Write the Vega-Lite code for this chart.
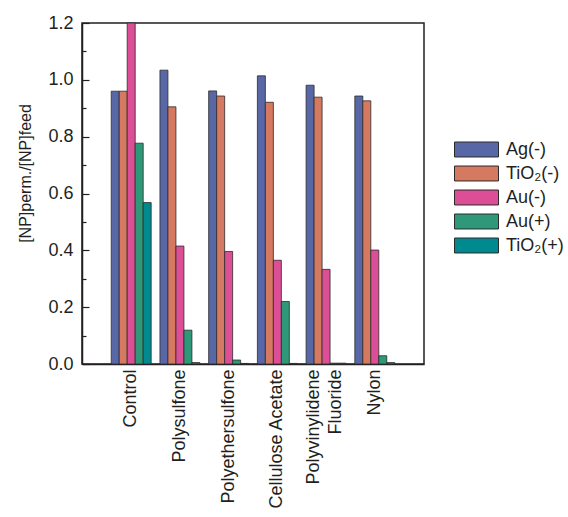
{
  "$schema": "https://vega.github.io/schema/vega-lite/v6.json",
  "width": 342,
  "height": 341,
  "autosize": {"type": "none"},
  "padding": {"left": 82, "top": 23, "right": 144, "bottom": 153},
  "background": "white",
  "config": {
    "font": "Liberation Sans",
    "view": {"stroke": "#231f20", "strokeWidth": 1.5},
    "axis": {"domainColor": "#231f20", "domainWidth": 1.5, "tickColor": "#231f20", "labelColor": "#231f20", "titleColor": "#231f20", "grid": false}
  },
  "data": {
    "values": [
      {"membrane": "Control", "np": "Ag(-)", "ratio": 0.96},
      {"membrane": "Control", "np": "TiO₂(-)", "ratio": 0.96},
      {"membrane": "Control", "np": "Au(-)", "ratio": 1.2},
      {"membrane": "Control", "np": "Au(+)", "ratio": 0.777},
      {"membrane": "Control", "np": "TiO₂(+)", "ratio": 0.568},
      {"membrane": "Polysulfone", "np": "Ag(-)", "ratio": 1.034},
      {"membrane": "Polysulfone", "np": "TiO₂(-)", "ratio": 0.905},
      {"membrane": "Polysulfone", "np": "Au(-)", "ratio": 0.415},
      {"membrane": "Polysulfone", "np": "Au(+)", "ratio": 0.119},
      {"membrane": "Polysulfone", "np": "TiO₂(+)", "ratio": 0.005},
      {"membrane": "Polyethersulfone", "np": "Ag(-)", "ratio": 0.961},
      {"membrane": "Polyethersulfone", "np": "TiO₂(-)", "ratio": 0.943},
      {"membrane": "Polyethersulfone", "np": "Au(-)", "ratio": 0.396},
      {"membrane": "Polyethersulfone", "np": "Au(+)", "ratio": 0.014},
      {"membrane": "Polyethersulfone", "np": "TiO₂(+)", "ratio": 0.002},
      {"membrane": "Cellulose Acetate", "np": "Ag(-)", "ratio": 1.014},
      {"membrane": "Cellulose Acetate", "np": "TiO₂(-)", "ratio": 0.921},
      {"membrane": "Cellulose Acetate", "np": "Au(-)", "ratio": 0.365},
      {"membrane": "Cellulose Acetate", "np": "Au(+)", "ratio": 0.22},
      {"membrane": "Cellulose Acetate", "np": "TiO₂(+)", "ratio": 0.002},
      {"membrane": "Polyvinylidene Fluoride", "np": "Ag(-)", "ratio": 0.981},
      {"membrane": "Polyvinylidene Fluoride", "np": "TiO₂(-)", "ratio": 0.939},
      {"membrane": "Polyvinylidene Fluoride", "np": "Au(-)", "ratio": 0.333},
      {"membrane": "Polyvinylidene Fluoride", "np": "Au(+)", "ratio": 0.003},
      {"membrane": "Polyvinylidene Fluoride", "np": "TiO₂(+)", "ratio": 0.003},
      {"membrane": "Nylon", "np": "Ag(-)", "ratio": 0.943},
      {"membrane": "Nylon", "np": "TiO₂(-)", "ratio": 0.926},
      {"membrane": "Nylon", "np": "Au(-)", "ratio": 0.401},
      {"membrane": "Nylon", "np": "Au(+)", "ratio": 0.029},
      {"membrane": "Nylon", "np": "TiO₂(+)", "ratio": 0.005}
    ]
  },
  "mark": {"type": "bar", "stroke": "#2b2b2b", "strokeWidth": 0.8},
  "encoding": {
    "x": {
      "field": "membrane",
      "type": "nominal",
      "sort": ["Control", "Polysulfone", "Polyethersulfone", "Cellulose Acetate", "Polyvinylidene Fluoride", "Nylon"],
      "scale": {"paddingInner": 0.18, "paddingOuter": 0.6},
      "axis": {
        "title": null,
        "ticks": false,
        "labelAngle": -90,
        "labelFontSize": 18,
        "labelPadding": 5,
        "labelLineHeight": 22,
        "labelLimit": 300,
        "labelOffset": {"condition": {"test": "datum.value == 'Polyvinylidene Fluoride'", "value": -12}, "value": 0},
        "labelExpr": "datum.value == 'Polyvinylidene Fluoride' ? ['Polyvinylidene', 'Fluoride'] : datum.value"
      }
    },
    "xOffset": {
      "field": "np",
      "type": "nominal",
      "sort": ["Ag(-)", "TiO₂(-)", "Au(-)", "Au(+)", "TiO₂(+)"],
      "scale": {"paddingInner": 0, "paddingOuter": 0}
    },
    "y": {
      "field": "ratio",
      "type": "quantitative",
      "scale": {"domain": [0, 1.2], "nice": false, "clamp": true},
      "axis": {
        "title": "[NP]perm./[NP]feed",
        "titleFontSize": 16,
        "titleFontWeight": "normal",
        "titlePadding": 14,
        "titleY": 150,
        "values": [0, 0.1, 0.2, 0.3, 0.4, 0.5, 0.6, 0.7, 0.8, 0.9, 1.0, 1.1, 1.2],
        "labelExpr": "round(datum.value * 10) % 2 == 0 ? format(datum.value, '.1f') : ''",
        "labelFontSize": 18,
        "labelPadding": 16,
        "tickSize": {"condition": {"test": "round(datum.value * 10) % 2 == 0", "value": -7}, "value": -4},
        "tickWidth": 1.2
      }
    },
    "color": {
      "field": "np",
      "type": "nominal",
      "sort": ["Ag(-)", "TiO₂(-)", "Au(-)", "Au(+)", "TiO₂(+)"],
      "scale": {
        "domain": ["Ag(-)", "TiO₂(-)", "Au(-)", "Au(+)", "TiO₂(+)"],
        "range": ["#5868a6", "#d67961", "#dc4f96", "#2f9878", "#008a90"]
      },
      "legend": {
        "title": null,
        "orient": "none",
        "legendX": 383,
        "legendY": 115,
        "padding": 0,
        "symbolType": "M-2,-0.68L2,-0.68L2,0.68L-2,0.68Z",
        "symbolSize": 484,
        "symbolStrokeColor": "#2b2b2b",
        "symbolStrokeWidth": 1,
        "symbolOpacity": 1,
        "labelOffset": 18,
        "labelFontSize": 18,
        "labelColor": "#231f20",
        "labelLimit": 200,
        "rowPadding": 3
      }
    }
  }
}
